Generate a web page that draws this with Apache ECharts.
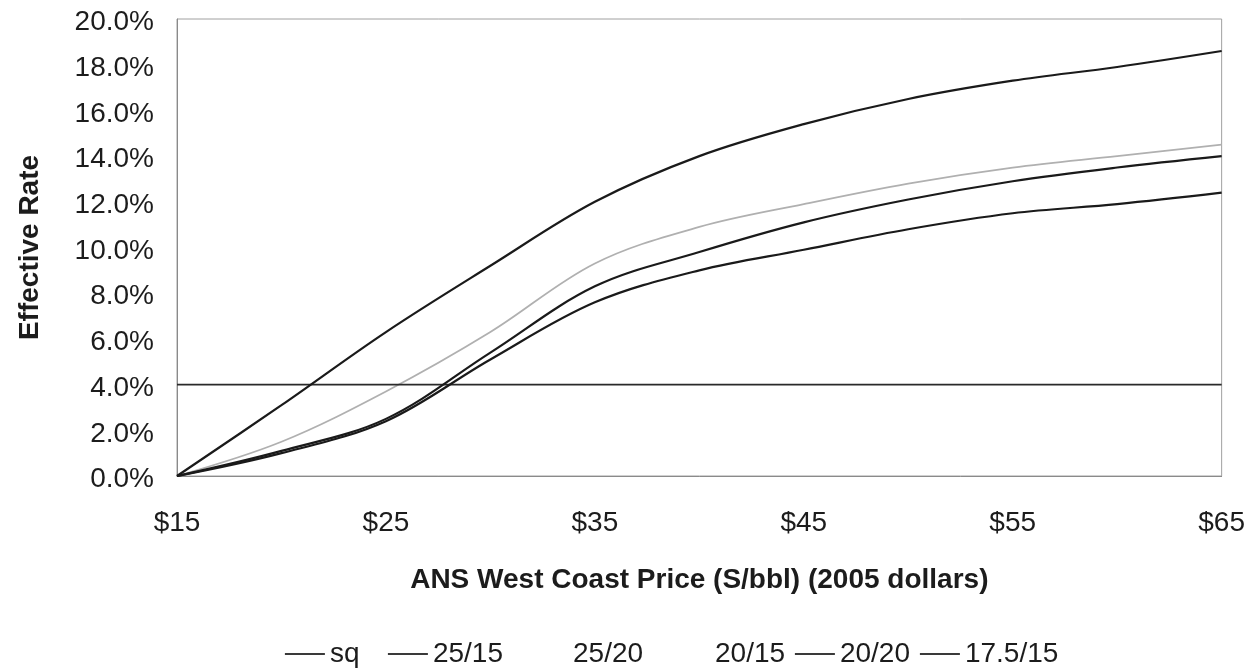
<!DOCTYPE html>
<html>
<head>
<meta charset="utf-8">
<script src="https://cdn.jsdelivr.net/npm/echarts@6/dist/echarts.min.js"></script>
<style>
  html, body { margin: 0; padding: 0; background: #ffffff; }
  #chart { width: 1248px; height: 672px; }
</style>
</head>
<body>
<div id="chart"></div>
<script>
// ANS West Coast price points, $5 steps (2005 dollars)
const prices = ['$15', '$20', '$25', '$30', '$35', '$40', '$45', '$50', '$55', '$60', '$65'];

// Effective rate (%) for each scenario
const sq      = [4.0, 4.0, 4.0, 4.0, 4.0, 4.0, 4.0, 4.0, 4.0, 4.0, 4.0];
const r25_15  = [0, 3.1, 6.3, 9.2, 12.0, 14.0, 15.4, 16.5, 17.3, 17.9, 18.6];
const r25_20  = [0, 1.5, 3.7, 6.3, 9.3, 10.9, 11.9, 12.8, 13.5, 14.0, 14.5];
const r20_15  = [];
const r20_20  = [0, 1.1, 2.5, 5.4, 8.3, 9.8, 11.1, 12.1, 12.9, 13.5, 14.0];
const r175_15 = [0, 1.0, 2.4, 5.1, 7.6, 9.0, 9.9, 10.8, 11.5, 11.9, 12.4];

const seriesNames = ['sq', '25/15', '25/20', '20/15', '20/20', '17.5/15'];
const seriesData  = [sq, r25_15, r25_20, r20_15, r20_20, r175_15];

// Y-axis tick values (percent)
const yMin = 0, yMax = 20, yStep = 2;

const FONT = '"Liberation Sans", Arial, sans-serif';
const TXT = '#1c1c1c';
const lineColors = ['#2a2a2a', '#1a1a1a', '#b0b0b0', '#fafafa', '#1a1a1a', '#1a1a1a'];
const lineWidths = [1.8, 2.2, 1.8, 1.6, 2.2, 2.2];
const legendLeft = [279, 382, 522, 664, 789, 914];

const chart = echarts.init(document.getElementById('chart'), null, { renderer: 'canvas' });

chart.setOption({
  backgroundColor: '#ffffff',
  animation: false,
  grid: {
    left: 177, right: 23, top: 19, bottom: 196,
    show: true, borderColor: '#a0a0a0', borderWidth: 1, backgroundColor: 'transparent'
  },
  legend: seriesNames.map((name, i) => ({
    data: [{
      name: name,
      lineStyle: (name === '25/20' || name === '20/15') ? { opacity: 0 } : { color: '#3a3a3a', width: 1.8 },
      itemStyle: { opacity: 0 }
    }],
    left: legendLeft[i],
    top: 635,
    itemWidth: 40,
    itemHeight: 14,
    selectedMode: false,
    textStyle: { fontFamily: FONT, fontSize: 28, color: TXT }
  })),
  xAxis: {
    type: 'category',
    data: prices,
    boundaryGap: false,
    name: 'ANS West Coast Price (S/bbl) (2005 dollars)',
    nameLocation: 'middle',
    nameGap: 90,
    nameTextStyle: { fontFamily: FONT, fontSize: 28, fontWeight: 'bold', color: TXT },
    axisLine: { lineStyle: { color: '#8a8a8a', width: 1 } },
    axisTick: { show: false },
    axisLabel: {
      interval: 1,
      margin: 33,
      fontFamily: FONT, fontSize: 28, color: TXT
    },
    splitLine: { show: false }
  },
  yAxis: {
    type: 'value',
    min: yMin, max: yMax, interval: yStep,
    name: 'Effective Rate',
    nameLocation: 'middle',
    nameGap: 133,
    nameTextStyle: { fontFamily: FONT, fontSize: 28, fontWeight: 'bold', color: TXT },
    axisLine: { show: true, lineStyle: { color: '#8a8a8a', width: 1 } },
    axisTick: { show: false },
    axisLabel: {
      margin: 23,
      fontFamily: FONT, fontSize: 28, color: TXT,
      formatter: v => '{t|' + v.toFixed(1) + '%}',
      rich: {
        t: { fontFamily: FONT, fontSize: 28, color: TXT, padding: [7, 0, 0, 0] }
      }
    },
    splitLine: { show: false }
  },
  series: seriesNames.map((name, i) => ({
    name: name,
    type: 'line',
    data: seriesData[i],
    smooth: 0.35,
    symbol: 'none',
    lineStyle: { color: lineColors[i], width: lineWidths[i] },
    itemStyle: { color: lineColors[i] },
    z: name === '25/20' ? 1 : 2
  }))
});
</script>
</body>
</html>
